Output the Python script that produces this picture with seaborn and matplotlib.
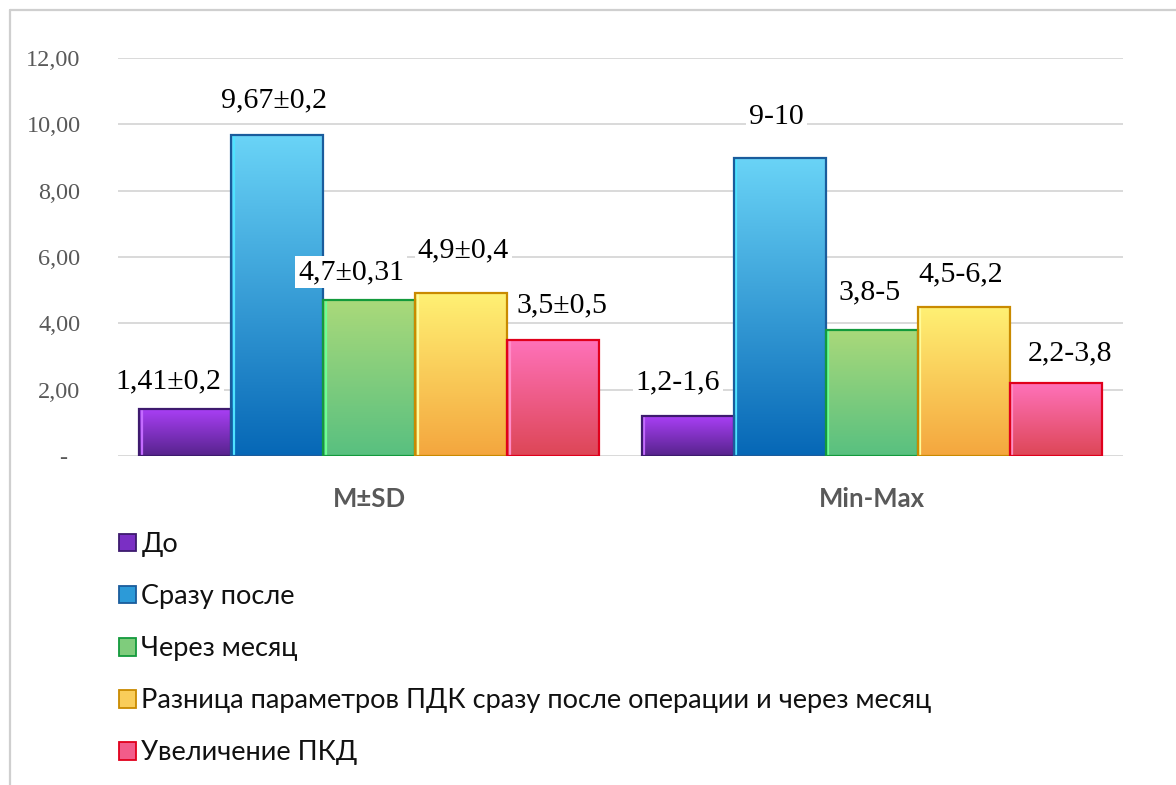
import numpy as np
import pandas as pd
import seaborn as sns
import matplotlib
matplotlib.use("Agg")
import matplotlib.pyplot as plt
from matplotlib.colors import LinearSegmentedColormap
from matplotlib.patches import Patch
from matplotlib.lines import Line2D
from matplotlib.transforms import offset_copy

# ---- data ----
groups = ["M±SD", "Min-Max"]
series = [
    "До",
    "Сразу после",
    "Через месяц",
    "Разница параметров ПДК сразу после операции и через месяц",
    "Увеличение ПКД",
]
msd_values = [1.41, 9.67, 4.7, 4.9, 3.5]
minmax_values = [1.2, 9.0, 3.8, 4.5, 2.2]
msd_labels = ["1,41±0,2", "9,67±0,2", "4,7±0,31", "4,9±0,4", "3,5±0,5"]
minmax_labels = ["1,2-1,6", "9-10", "3,8-5", "4,5-6,2", "2,2-3,8"]
ytick_values = [0, 2, 4, 6, 8, 10, 12]
ytick_labels = ["-  ", "2,00", "4,00", "6,00", "8,00", "10,00", "12,00"]

# ---- styles: (gradient top, gradient bottom, outline, inner highlight) ----
series_styles = [
    ("#a93ff5", "#56238c", "#3d1a6e", "#c46bff"),
    ("#6ad4f7", "#0667b6", "#1a5c9c", "#4fe3ff"),
    ("#aad97a", "#58c080", "#139a3c", "#6dff93"),
    ("#fff174", "#f4a63e", "#c98a00", "#fffb9a"),
    ("#ff72ba", "#dd4656", "#e0001c", "#ff8cc8"),
]
legend_fill = ["#7a2fc4", "#2c9ad8", "#7fcc7c", "#f9cd5a", "#f25c8a"]
# label offsets from the top centre of each bar, in pixels
label_offsets = [(-17, 28), (-3, 35), (-18, 28), (2, 43), (9, 35),
                 (-10, 34), (-3, 40), (-2, 38), (-3, 32), (14, 30)]

df = pd.DataFrame({
    "group": [g for g in groups for _ in series],
    "series": series * len(groups),
    "value": msd_values + minmax_values,
})

sns.set_theme(style="white")
plt.rcParams["font.family"] = ["Lato", "DejaVu Sans"]

W, H = 1176, 785
fig = plt.figure(figsize=(W / 100, H / 100), dpi=100)
fig.patch.set_facecolor("white")
ax = fig.add_axes([118 / W, 329 / H, (1123 - 118) / W, (727 - 329) / H])

sns.barplot(data=df, x="group", y="value", hue="series", order=groups,
            hue_order=series, palette=legend_fill, width=0.915, gap=0,
            linewidth=1.5, ax=ax, legend=False, zorder=3)

# vertical gradient fill for every bar, clipped to the bar outline
grad = np.linspace(0, 1, 256).reshape(-1, 1)
hl_transform = offset_copy(ax.transData, fig=fig, x=2.5, y=0, units="dots")
for container, (top, bottom, edge, light) in zip(ax.containers, series_styles):
    cmap = LinearSegmentedColormap.from_list("bar", [bottom, top])
    for bar in container:
        x0, w, h = bar.get_x(), bar.get_width(), bar.get_height()
        im = ax.imshow(grad, cmap=cmap, origin="lower", aspect="auto",
                       extent=[x0, x0 + w, 0, h], zorder=2,
                       interpolation="bilinear")
        im.set_clip_path(bar)
        # light bevel line just inside the left edge
        ax.plot([x0, x0], [0, h], transform=hl_transform, color=light,
                lw=1.6, zorder=2.5, solid_capstyle="butt")
        bar.set_facecolor("none")
        bar.set_edgecolor(edge)
        bar.set_linewidth(1.6)
        bar.set_zorder(3)

ax.set_xlim(-0.5, 1.5)
ax.set_ylim(0, 12)

# value labels
all_labels = msd_labels + minmax_labels
for gi in range(len(groups)):
    for si, container in enumerate(ax.containers):
        bar = container.patches[gi]
        cx = bar.get_x() + bar.get_width() / 2
        top = bar.get_height()
        k = gi * len(series) + si
        dx, dy = label_offsets[k]
        ax.annotate(all_labels[k], xy=(cx, top),
                    xytext=(dx, dy), textcoords="offset pixels",
                    ha="center", va="center", fontsize=21.5,
                    family="Liberation Serif", color="black", zorder=6,
                    annotation_clip=False,
                    bbox=dict(boxstyle="square,pad=0.1", facecolor="white",
                              edgecolor="none"))

# axes styling
for s in ax.spines.values():
    s.set_visible(False)
ax.set_yticks(ytick_values)
ax.set_yticklabels(ytick_labels, family="Liberation Serif", fontsize=17.5,
                   color="#595959")
ax.yaxis.grid(True, color="#d9d9d9", linewidth=1.4, zorder=0)
ax.set_axisbelow(True)
ax.tick_params(axis="y", length=0, pad=27)
ax.tick_params(axis="x", length=0, pad=22)
ax.set_xticks(range(len(groups)))
ax.set_xticklabels(groups, fontsize=18.5, fontweight="bold", color="#595959")
ax.set_xlabel("")
ax.set_ylabel("")

# legend below the plot
handles = [Patch(facecolor=f, edgecolor=s[2], linewidth=1.3)
           for f, s in zip(legend_fill, series_styles)]
fig.legend(handles, series, loc="upper left",
           bbox_to_anchor=(119 / W, 1 - 532 / H), frameon=False,
           fontsize=19.5, handlelength=0.63, handleheight=0.63,
           handletextpad=0.2, labelspacing=1.0, borderpad=0,
           borderaxespad=0, labelcolor="#111111")

# thin frame along the top and left edges
fig.add_artist(Line2D([10 / W, 1], [1 - 10 / H, 1 - 10 / H],
                      transform=fig.transFigure, color="#cfcfcf", lw=1.6))
fig.add_artist(Line2D([10 / W, 10 / W], [0, 1 - 10 / H],
                      transform=fig.transFigure, color="#cfcfcf", lw=1.6))

fig.savefig("out.png", dpi=100)
